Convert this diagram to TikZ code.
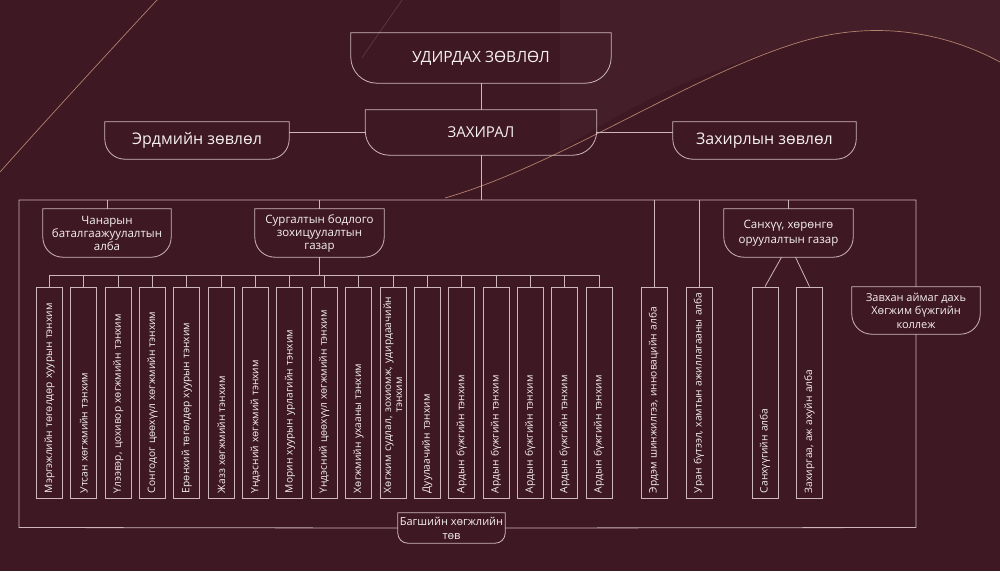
\documentclass[tikz,border=0pt]{standalone}
\usepackage{fontspec}
\setmainfont{Open Sans}
\definecolor{bordo}{RGB}{62,24,35}
\definecolor{lin}{RGB}{205,182,188}
\definecolor{txt}{RGB}{246,240,242}
\definecolor{zoos}{RGB}{178,130,108}
\tikzset{
  lin/.style={draw=lin,line width=0.8pt},
  cup/.style={align=center,inner sep=0pt,text=txt},
  col/.style={lin,rotate=90,minimum width=211pt,minimum height=26pt,inner xsep=5pt,
    text width=201pt,align=left,text=txt,font=\fontsize{10.2}{12}\selectfont},
}
\begin{document}
\begin{tikzpicture}[x=1pt,y=-1pt]
\useasboundingbox (0,0) rectangle (1000,571);
\fill[bordo] (0,0) rectangle (1000,571);
% decorative lines
\fill[white,opacity=0.03] (560,0) -- (1000,0) -- (1000,62) .. controls (950,35) and (880,18) .. (800,42) .. controls (700,72) and (640,100) .. (560,150) -- cycle;
\draw[zoos,line width=0.7pt] (157,0) .. controls (118,42) and (48,118) .. (0,172);
\draw[zoos,line width=0.6pt,opacity=0.35] (402,0) .. controls (390,18) and (375,38) .. (362,58);
\draw[zoos,line width=0.7pt] (445,198) .. controls (560,165) and (690,75) .. (800,42) .. controls (880,18) and (950,35) .. (1000,62);
% frame
\coordinate (ftl) at (19,200);
\coordinate (ftr) at (916,200);
\coordinate (fbl) at (19,527.5);
\coordinate (fbr) at (916,527.5);
\coordinate (bl) at (49.5,275);
\coordinate (br) at (599,275);
% top
\node[cup,minimum width=260pt,minimum height=50pt,font=\fontsize{15.5}{18}\selectfont] (udirdakh) at (481,58) {УДИРДАХ ЗӨВЛӨЛ};
\node[cup,minimum width=231pt,minimum height=45pt,font=\fontsize{15}{18}\selectfont] (zakhiral) at (481,132.5) {ЗАХИРАЛ};
\node[cup,minimum width=184pt,minimum height=37pt,font=\fontsize{16}{18}\selectfont] (erdmiin) at (197,140.5) {Эрдмийн зөвлөл};
\node[cup,minimum width=183pt,minimum height=37pt,font=\fontsize{16}{18}\selectfont] (zakhirlyn) at (764.5,140.5) {Захирлын зөвлөл};
% second row
\node[cup,minimum width=128pt,minimum height=48pt,font=\fontsize{11.5}{13}\selectfont] (chanar) at (107,233) {Чанарын\\баталгаажуулалтын\\алба};
\node[cup,minimum width=129pt,minimum height=48pt,font=\fontsize{11.5}{13}\selectfont] (surgalt) at (319.5,233) {Сургалтын бодлого\\зохицуулалтын\\газар};
\node[cup,minimum width=129pt,minimum height=48pt,font=\fontsize{11.5}{15}\selectfont] (sankhuu) at (788.5,233) {Санхүү, хөрөнгө\\оруулалтын газар};
\node[cup,minimum width=128pt,minimum height=47pt,font=\fontsize{11}{13.5}\selectfont] (zavkhan) at (916,310.5) {Завхан аймаг дахь\\Хөгжим бүжгийн\\коллеж};
\node[cup,minimum width=107pt,minimum height=30pt,font=\fontsize{11}{14}\selectfont] (bagsh) at (451.5,528) {Багшийн хөгжлийн\\төв};
% tenhimuud
\foreach \t [count=\i from 0] in {Мэргэжлийн төгөлдөр хуурын тэнхим,Утсан хөгжмийн тэнхим,{Үлээвэр, цохивор хөгжмийн тэнхим},Сонгодог цөөхүүл хөгжмийн тэнхим,Ерөнхий төгөлдөр хуурын тэнхим,Жазз хөгжмийн тэнхим,Үндэсний хөгжмий тэнхим,Морин хуурын урлагийн тэнхим,Үндэсний цөөхүүл хөгжмийн тэнхим,Хөгжмийн ухааны тэнхим,{\shortstack{Хөгжим судлал, зохиомж, удирдаачийн\\тэнхим}},Дуулаачийн тэнхим,Ардын бүжгийн тэнхим,Ардын бүжгийн тэнхим,Ардын бүжгийн тэнхим,Ардын бүжгийн тэнхим,Ардын бүжгийн тэнхим}{
  \node[col] (c\i) at ({49.5+34.34*\i},392.5) {\t};
  \draw[lin] (c\i.east) -- (c\i.east |- bl);
}
\node[col] (erdem) at (654,392.5) {Эрдэм шинжилгээ, инновацийн алба};
\node[col] (uran) at (699,392.5) {\mbox{Уран бүтээл, хамтын ажиллагааны алба}};
\node[col] (sankhalba) at (765,392.5) {Санхүүгийн алба};
\node[col] (zakhirgaa) at (809.5,392.5) {Захиргаа, аж ахуйн алба};
% connectors
\draw[lin] (udirdakh.south) -- (zakhiral.north);
\draw[lin] (zakhiral.west) -- (zakhiral.west -| erdmiin.east);
\draw[lin] (zakhiral.east) -- (zakhiral.east -| zakhirlyn.west);
\draw[lin] (zakhiral.south) -- (zakhiral.south |- ftl);
\draw[lin] (zavkhan.north) -- (ftr) -- (ftl) -- (fbl) -- (bagsh.west);
\draw[lin] (bagsh.east) -- (fbr) -- (zavkhan.south);
\foreach \n in {chanar,surgalt,sankhuu}
  \draw[lin] (\n.north |- ftl) -- (\n.north);
\draw[lin] (erdem.east) -- (erdem.east |- ftl);
\draw[lin] (uran.east) -- (uran.east |- ftl);
\draw[lin] (surgalt.south) -- (surgalt.south |- bl);
\draw[lin] (bl) -- (br);
\draw[lin] ([xshift=-7pt]sankhuu.south) -- (sankhalba.east);
\draw[lin] ([xshift=7pt]sankhuu.south) -- (zakhirgaa.east);
% box outlines
\foreach \n/\r in {udirdakh/26,zakhiral/24,erdmiin/20,zakhirlyn/20,chanar/20,surgalt/20,sankhuu/20,zavkhan/20,bagsh/10}
  \draw[lin] (\n.north west) -- (\n.north east) -- ([yshift=\r pt]\n.south east)
    arc[start angle=0,end angle=-90,radius=\r pt] -- ([xshift=\r pt]\n.south west)
    arc[start angle=270,end angle=180,radius=\r pt] -- cycle;
\end{tikzpicture}
\end{document}
